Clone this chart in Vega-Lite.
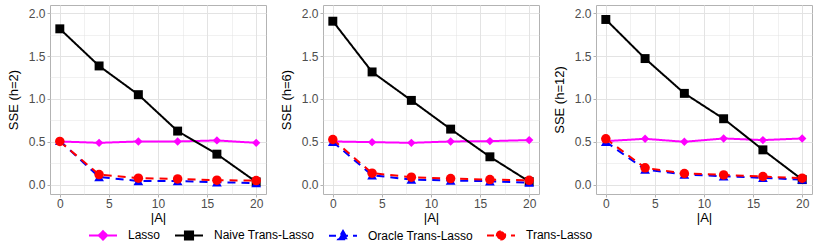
{
  "$schema": "https://vega.github.io/schema/vega-lite/v6.json",
  "padding": {"left": 6, "top": 4, "right": 0, "bottom": 0},
  "datasets": {
    "sse": [
      {"h": 2, "A": 0, "Method": "Lasso", "SSE": 0.503},
      {"h": 2, "A": 4, "Method": "Lasso", "SSE": 0.487},
      {"h": 2, "A": 8, "Method": "Lasso", "SSE": 0.503},
      {"h": 2, "A": 12, "Method": "Lasso", "SSE": 0.503},
      {"h": 2, "A": 16, "Method": "Lasso", "SSE": 0.515},
      {"h": 2, "A": 20, "Method": "Lasso", "SSE": 0.487},
      {"h": 2, "A": 0, "Method": "Naive Trans-Lasso", "SSE": 1.817},
      {"h": 2, "A": 4, "Method": "Naive Trans-Lasso", "SSE": 1.384},
      {"h": 2, "A": 8, "Method": "Naive Trans-Lasso", "SSE": 1.049},
      {"h": 2, "A": 12, "Method": "Naive Trans-Lasso", "SSE": 0.624},
      {"h": 2, "A": 16, "Method": "Naive Trans-Lasso", "SSE": 0.355},
      {"h": 2, "A": 20, "Method": "Naive Trans-Lasso", "SSE": 0.031},
      {"h": 2, "A": 0, "Method": "Oracle Trans-Lasso", "SSE": 0.51},
      {"h": 2, "A": 4, "Method": "Oracle Trans-Lasso", "SSE": 0.088},
      {"h": 2, "A": 8, "Method": "Oracle Trans-Lasso", "SSE": 0.042},
      {"h": 2, "A": 12, "Method": "Oracle Trans-Lasso", "SSE": 0.04},
      {"h": 2, "A": 16, "Method": "Oracle Trans-Lasso", "SSE": 0.027},
      {"h": 2, "A": 20, "Method": "Oracle Trans-Lasso", "SSE": 0.018},
      {"h": 2, "A": 0, "Method": "Trans-Lasso", "SSE": 0.503},
      {"h": 2, "A": 4, "Method": "Trans-Lasso", "SSE": 0.117},
      {"h": 2, "A": 8, "Method": "Trans-Lasso", "SSE": 0.074},
      {"h": 2, "A": 12, "Method": "Trans-Lasso", "SSE": 0.066},
      {"h": 2, "A": 16, "Method": "Trans-Lasso", "SSE": 0.051},
      {"h": 2, "A": 20, "Method": "Trans-Lasso", "SSE": 0.047},
      {"h": 6, "A": 0, "Method": "Lasso", "SSE": 0.503},
      {"h": 6, "A": 4, "Method": "Lasso", "SSE": 0.495},
      {"h": 6, "A": 8, "Method": "Lasso", "SSE": 0.487},
      {"h": 6, "A": 12, "Method": "Lasso", "SSE": 0.503},
      {"h": 6, "A": 16, "Method": "Lasso", "SSE": 0.507},
      {"h": 6, "A": 20, "Method": "Lasso", "SSE": 0.519},
      {"h": 6, "A": 0, "Method": "Naive Trans-Lasso", "SSE": 1.906},
      {"h": 6, "A": 4, "Method": "Naive Trans-Lasso", "SSE": 1.314},
      {"h": 6, "A": 8, "Method": "Naive Trans-Lasso", "SSE": 0.982},
      {"h": 6, "A": 12, "Method": "Naive Trans-Lasso", "SSE": 0.647},
      {"h": 6, "A": 16, "Method": "Naive Trans-Lasso", "SSE": 0.324},
      {"h": 6, "A": 20, "Method": "Naive Trans-Lasso", "SSE": 0.035},
      {"h": 6, "A": 0, "Method": "Oracle Trans-Lasso", "SSE": 0.5},
      {"h": 6, "A": 4, "Method": "Oracle Trans-Lasso", "SSE": 0.109},
      {"h": 6, "A": 8, "Method": "Oracle Trans-Lasso", "SSE": 0.058},
      {"h": 6, "A": 12, "Method": "Oracle Trans-Lasso", "SSE": 0.047},
      {"h": 6, "A": 16, "Method": "Oracle Trans-Lasso", "SSE": 0.039},
      {"h": 6, "A": 20, "Method": "Oracle Trans-Lasso", "SSE": 0.023},
      {"h": 6, "A": 0, "Method": "Trans-Lasso", "SSE": 0.526},
      {"h": 6, "A": 4, "Method": "Trans-Lasso", "SSE": 0.133},
      {"h": 6, "A": 8, "Method": "Trans-Lasso", "SSE": 0.086},
      {"h": 6, "A": 12, "Method": "Trans-Lasso", "SSE": 0.07},
      {"h": 6, "A": 16, "Method": "Trans-Lasso", "SSE": 0.058},
      {"h": 6, "A": 20, "Method": "Trans-Lasso", "SSE": 0.05},
      {"h": 12, "A": 0, "Method": "Lasso", "SSE": 0.507},
      {"h": 12, "A": 4, "Method": "Lasso", "SSE": 0.534},
      {"h": 12, "A": 8, "Method": "Lasso", "SSE": 0.499},
      {"h": 12, "A": 12, "Method": "Lasso", "SSE": 0.538},
      {"h": 12, "A": 16, "Method": "Lasso", "SSE": 0.519},
      {"h": 12, "A": 20, "Method": "Lasso", "SSE": 0.538},
      {"h": 12, "A": 0, "Method": "Naive Trans-Lasso", "SSE": 1.926},
      {"h": 12, "A": 4, "Method": "Naive Trans-Lasso", "SSE": 1.47},
      {"h": 12, "A": 8, "Method": "Naive Trans-Lasso", "SSE": 1.064},
      {"h": 12, "A": 12, "Method": "Naive Trans-Lasso", "SSE": 0.768},
      {"h": 12, "A": 16, "Method": "Naive Trans-Lasso", "SSE": 0.405},
      {"h": 12, "A": 20, "Method": "Naive Trans-Lasso", "SSE": 0.058},
      {"h": 12, "A": 0, "Method": "Oracle Trans-Lasso", "SSE": 0.5},
      {"h": 12, "A": 4, "Method": "Oracle Trans-Lasso", "SSE": 0.175},
      {"h": 12, "A": 8, "Method": "Oracle Trans-Lasso", "SSE": 0.117},
      {"h": 12, "A": 12, "Method": "Oracle Trans-Lasso", "SSE": 0.097},
      {"h": 12, "A": 16, "Method": "Oracle Trans-Lasso", "SSE": 0.078},
      {"h": 12, "A": 20, "Method": "Oracle Trans-Lasso", "SSE": 0.058},
      {"h": 12, "A": 0, "Method": "Trans-Lasso", "SSE": 0.534},
      {"h": 12, "A": 4, "Method": "Trans-Lasso", "SSE": 0.195},
      {"h": 12, "A": 8, "Method": "Trans-Lasso", "SSE": 0.129},
      {"h": 12, "A": 12, "Method": "Trans-Lasso", "SSE": 0.113},
      {"h": 12, "A": 16, "Method": "Trans-Lasso", "SSE": 0.094},
      {"h": 12, "A": 20, "Method": "Trans-Lasso", "SSE": 0.074}
    ]
  },
  "spacing": 12,
  "hconcat": [
    {
      "width": 216, "height": 189,
      "data": {"name": "sse"},
      "transform": [{"filter": "datum.h == 2"}],
      "encoding": {
        "x": {"field": "A", "type": "quantitative", "scale": {"domain": [-1, 21], "nice": false, "zero": false},
          "axis": {"title": "|A|", "values": [0, 2.5, 5, 7.5, 10, 12.5, 15, 17.5, 20], "labelExpr": "datum.value % 5 === 0 ? datum.label : ''",
            "tickOpacity": {"condition": {"test": "datum.value % 5 === 0", "value": 1}, "value": 0},
            "gridWidth": {"condition": {"test": "datum.value % 5 === 0", "value": 1}, "value": 0.5}}},
        "y": {"field": "SSE", "type": "quantitative", "scale": {"domain": [-0.11, 2.095], "nice": false, "zero": false},
          "axis": {"title": "SSE (h=2)", "format": ".1f", "values": [0, 0.25, 0.5, 0.75, 1, 1.25, 1.5, 1.75, 2], "labelExpr": "(datum.value * 2) % 1 === 0 ? datum.label : ''",
            "tickOpacity": {"condition": {"test": "(datum.value * 2) % 1 === 0", "value": 1}, "value": 0},
            "gridWidth": {"condition": {"test": "(datum.value * 2) % 1 === 0", "value": 1}, "value": 0.5}}}
      },
      "layer": [
        {"mark": {"type": "line", "strokeWidth": 2},
         "encoding": {
           "color": {"field": "Method", "type": "nominal",
             "scale": {"domain": ["Lasso", "Naive Trans-Lasso", "Oracle Trans-Lasso", "Trans-Lasso"], "range": ["#ff00ff", "#000000", "#0000ff", "#ff0000"]},
             "legend": {"encode": {"symbols": {"update": {
               "shape": {"signal": "datum.value === 'Lasso' ? 'M-1,0H1M0,-0.3L0.3,0L0,0.3L-0.3,0Z' : datum.value === 'Naive Trans-Lasso' ? 'M-1,0H1M-0.29,-0.29H0.29V0.29H-0.29Z' : datum.value === 'Oracle Trans-Lasso' ? 'M-1,0H1M0,-0.34L0.34,0.24H-0.34Z' : 'M-1,0H1M0.3,0A0.3,0.3,0,1,1,-0.3,0A0.3,0.3,0,1,1,0.3,0Z'"},
               "fill": {"signal": "datum.value === 'Lasso' ? '#ff00ff' : datum.value === 'Naive Trans-Lasso' ? '#000000' : datum.value === 'Oracle Trans-Lasso' ? '#0000ff' : '#ff0000'"},
               "stroke": {"signal": "datum.value === 'Lasso' ? '#ff00ff' : datum.value === 'Naive Trans-Lasso' ? '#000000' : datum.value === 'Oracle Trans-Lasso' ? '#0000ff' : '#ff0000'"},
               "strokeDash": {"signal": "datum.value === 'Oracle Trans-Lasso' || datum.value === 'Trans-Lasso' ? [7, 5] : [1, 0]"},
               "strokeWidth": {"value": 2},
               "opacity": {"value": 1}
             }}}}},
           "strokeDash": {"field": "Method", "type": "nominal", "legend": null, "scale": {"range": [[1, 0], [1, 0], [8, 6], [8, 6]]}}}},
        {"mark": {"type": "point", "filled": true, "opacity": 1},
         "encoding": {
           "color": {"field": "Method", "type": "nominal", "legend": null},
           "shape": {"field": "Method", "type": "nominal", "legend": null, "scale": {"range": ["diamond", "square", "triangle-up", "circle"]}},
           "size": {"field": "Method", "type": "nominal", "legend": null, "scale": {"type": "ordinal", "range": [70, 80, 95, 90]}}}}
      ]
    },
    {
      "width": 216, "height": 189,
      "data": {"name": "sse"},
      "transform": [{"filter": "datum.h == 6"}],
      "encoding": {
        "x": {"field": "A", "type": "quantitative", "scale": {"domain": [-1, 21], "nice": false, "zero": false},
          "axis": {"title": "|A|", "values": [0, 2.5, 5, 7.5, 10, 12.5, 15, 17.5, 20], "labelExpr": "datum.value % 5 === 0 ? datum.label : ''",
            "tickOpacity": {"condition": {"test": "datum.value % 5 === 0", "value": 1}, "value": 0},
            "gridWidth": {"condition": {"test": "datum.value % 5 === 0", "value": 1}, "value": 0.5}}},
        "y": {"field": "SSE", "type": "quantitative", "scale": {"domain": [-0.11, 2.095], "nice": false, "zero": false},
          "axis": {"title": "SSE (h=6)", "format": ".1f", "values": [0, 0.25, 0.5, 0.75, 1, 1.25, 1.5, 1.75, 2], "labelExpr": "(datum.value * 2) % 1 === 0 ? datum.label : ''",
            "tickOpacity": {"condition": {"test": "(datum.value * 2) % 1 === 0", "value": 1}, "value": 0},
            "gridWidth": {"condition": {"test": "(datum.value * 2) % 1 === 0", "value": 1}, "value": 0.5}}}
      },
      "layer": [
        {"mark": {"type": "line", "strokeWidth": 2},
         "encoding": {
           "color": {"field": "Method", "type": "nominal",
             "scale": {"domain": ["Lasso", "Naive Trans-Lasso", "Oracle Trans-Lasso", "Trans-Lasso"], "range": ["#ff00ff", "#000000", "#0000ff", "#ff0000"]}},
           "strokeDash": {"field": "Method", "type": "nominal", "legend": null, "scale": {"range": [[1, 0], [1, 0], [8, 6], [8, 6]]}}}},
        {"mark": {"type": "point", "filled": true, "opacity": 1},
         "encoding": {
           "color": {"field": "Method", "type": "nominal", "legend": null},
           "shape": {"field": "Method", "type": "nominal", "legend": null, "scale": {"range": ["diamond", "square", "triangle-up", "circle"]}},
           "size": {"field": "Method", "type": "nominal", "legend": null, "scale": {"type": "ordinal", "range": [70, 80, 95, 90]}}}}
      ]
    },
    {
      "width": 216, "height": 189,
      "data": {"name": "sse"},
      "transform": [{"filter": "datum.h == 12"}],
      "encoding": {
        "x": {"field": "A", "type": "quantitative", "scale": {"domain": [-1, 21], "nice": false, "zero": false},
          "axis": {"title": "|A|", "values": [0, 2.5, 5, 7.5, 10, 12.5, 15, 17.5, 20], "labelExpr": "datum.value % 5 === 0 ? datum.label : ''",
            "tickOpacity": {"condition": {"test": "datum.value % 5 === 0", "value": 1}, "value": 0},
            "gridWidth": {"condition": {"test": "datum.value % 5 === 0", "value": 1}, "value": 0.5}}},
        "y": {"field": "SSE", "type": "quantitative", "scale": {"domain": [-0.11, 2.095], "nice": false, "zero": false},
          "axis": {"title": "SSE (h=12)", "format": ".1f", "values": [0, 0.25, 0.5, 0.75, 1, 1.25, 1.5, 1.75, 2], "labelExpr": "(datum.value * 2) % 1 === 0 ? datum.label : ''",
            "tickOpacity": {"condition": {"test": "(datum.value * 2) % 1 === 0", "value": 1}, "value": 0},
            "gridWidth": {"condition": {"test": "(datum.value * 2) % 1 === 0", "value": 1}, "value": 0.5}}}
      },
      "layer": [
        {"mark": {"type": "line", "strokeWidth": 2},
         "encoding": {
           "color": {"field": "Method", "type": "nominal",
             "scale": {"domain": ["Lasso", "Naive Trans-Lasso", "Oracle Trans-Lasso", "Trans-Lasso"], "range": ["#ff00ff", "#000000", "#0000ff", "#ff0000"]}},
           "strokeDash": {"field": "Method", "type": "nominal", "legend": null, "scale": {"range": [[1, 0], [1, 0], [8, 6], [8, 6]]}}}},
        {"mark": {"type": "point", "filled": true, "opacity": 1},
         "encoding": {
           "color": {"field": "Method", "type": "nominal", "legend": null},
           "shape": {"field": "Method", "type": "nominal", "legend": null, "scale": {"range": ["diamond", "square", "triangle-up", "circle"]}},
           "size": {"field": "Method", "type": "nominal", "legend": null, "scale": {"type": "ordinal", "range": [70, 80, 95, 90]}}}}
      ]
    }
  ],
  "config": {
    "font": "Liberation Sans",
    "view": {"stroke": "#b3b3b3", "strokeWidth": 1},
    "axis": {"domain": false, "tickColor": "#b3b3b3", "tickSize": 3, "labelColor": "#4d4d4d", "labelFontSize": 12, "labelFont": "Liberation Sans",
      "titleFont": "Liberation Sans", "titleFontSize": 13, "titleFontWeight": "normal", "titleColor": "#000000", "labelOverlap": false, "labelFlush": false,
      "gridColor": "#e3e3e3"},
    "axisX": {"labelPadding": 1, "titlePadding": 2},
    "axisY": {"labelPadding": 2, "titlePadding": 7, "minExtent": 23, "maxExtent": 23},
    "legend": {
      "orient": "none", "legendX": 38, "legendY": 215, "direction": "horizontal", "title": null, "padding": 0,
      "symbolSize": 784, "symbolStrokeWidth": 2, "labelFontSize": 12, "labelColor": "#000000", "labelFont": "Liberation Sans",
      "labelOffset": 10, "columnPadding": 10
    }
  }
}
